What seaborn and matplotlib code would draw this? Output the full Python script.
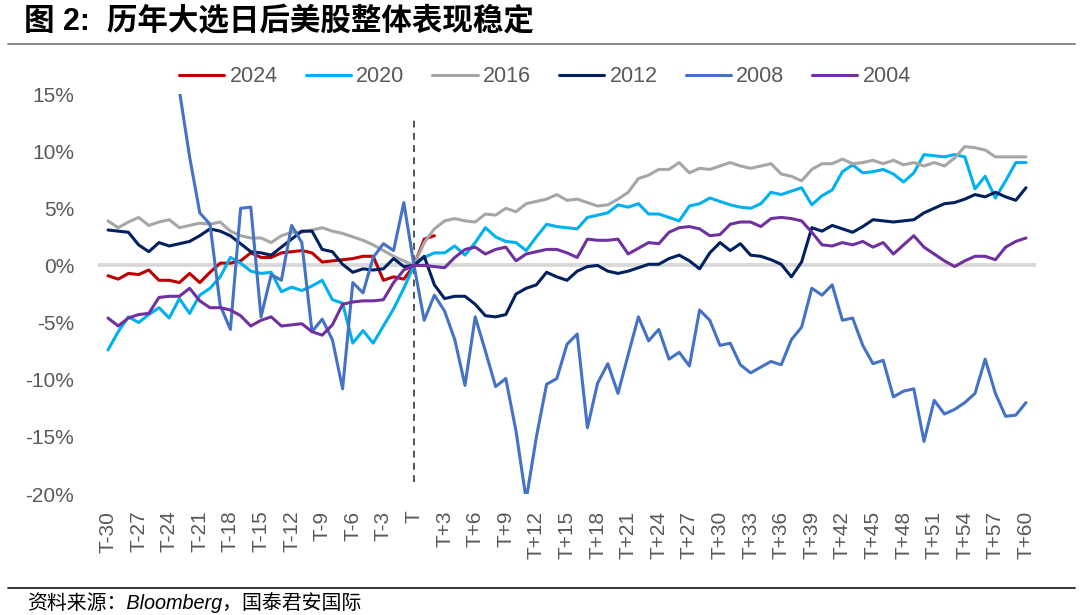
import matplotlib
matplotlib.use("Agg")
import matplotlib.pyplot as plt
from matplotlib.lines import Line2D
import numpy as np
import pandas as pd
import seaborn as sns

sns.set_theme(style="white")
plt.rcParams["font.family"] = ["Liberation Sans", "Noto Sans CJK SC"]

# ---------------- data ----------------
days = list(range(-30, 61))
tick_days = list(range(-30, 61, 3))
tick_labels = ["T" if d == 0 else f"T{d:+d}" for d in tick_days]

series_names = ["2024", "2020", "2016", "2012", "2008", "2004"]
series_colors = ["#C00000", "#00B0F0", "#A6A6A6", "#002060", "#4472C4", "#7030A0"]

# 2024: T-30 .. T+2
s2024 = [-0.9, -1.2, -0.7, -0.8, -0.4, -1.3, -1.3, -1.5, -0.7, -1.5,
         -0.6, 0.2, 0.2, 0.4, 1.1, 0.7, 0.7, 1.1, 1.2, 1.3,
         1.1, 0.3, 0.4, 0.5, 0.6, 0.8, 0.8, -1.3, -1.0, -1.2,
         0.0, 2.3, 2.6]

s2020 = [-7.4, -5.8, -4.5, -5.0, -4.3, -3.7, -4.6, -2.9, -4.2, -2.6,
         -2.0, -1.0, 0.7, 0.2, -0.5, -0.7, -0.6, -2.3, -1.9, -2.2,
         -1.8, -1.3, -3.0, -3.3, -6.8, -5.7, -6.8, -5.3, -3.8, -2.0,
         0.0, 0.7, 1.1, 1.1, 1.7, 0.9, 2.0, 3.3, 2.5, 2.1,
         2.0, 1.3, 2.5, 3.6, 3.4, 3.3, 3.2, 4.2, 4.4, 4.6,
         5.3, 5.1, 5.4, 4.5, 4.5, 4.2, 3.9, 5.2, 5.4, 5.9,
         5.6, 5.3, 5.1, 5.0, 5.4, 6.4, 6.2, 6.5, 6.8, 5.3,
         6.1, 6.6, 8.2, 8.8, 8.1, 8.2, 8.4, 8.0, 7.3, 8.1,
         9.7, 9.6, 9.5, 9.7, 9.5, 6.7, 7.8, 5.9, 7.4, 9.0,
         9.0]

s2016 = [3.9, 3.3, 3.8, 4.2, 3.5, 3.8, 4.0, 3.3, 3.5, 3.7,
         3.6, 3.8, 3.0, 2.6, 2.4, 2.4, 2.0, 2.6, 2.9, 2.9,
         3.1, 3.3, 3.0, 2.8, 2.5, 2.2, 1.8, 1.3, 0.8, 0.4,
         0.0, 2.0, 3.2, 3.9, 4.1, 3.9, 3.8, 4.5, 4.4, 5.0,
         4.7, 5.4, 5.6, 5.8, 6.2, 5.7, 5.8, 5.5, 5.2, 5.3,
         5.8, 6.4, 7.6, 7.9, 8.4, 8.4, 9.0, 8.1, 8.5, 8.4,
         8.7, 9.0, 8.7, 8.5, 8.7, 8.9, 8.0, 7.8, 7.4, 8.4,
         8.9, 8.9, 9.3, 8.9, 9.0, 9.2, 8.9, 9.2, 8.8, 9.0,
         8.7, 9.0, 8.7, 9.4, 10.4, 10.3, 10.1, 9.5, 9.5, 9.5,
         9.5]

s2012 = [3.1, 3.0, 2.9, 1.8, 1.2, 2.0, 1.7, 1.9, 2.1, 2.6,
         3.2, 3.0, 2.6, 1.9, 1.2, 1.1, 0.9, 1.6, 2.3, 3.0,
         3.0, 1.4, 1.2, 0.1, -0.6, -0.3, -0.4, -0.3, 0.6, -0.1,
         0.0, 0.8, -1.7, -2.9, -2.7, -2.7, -3.4, -4.4, -4.5, -4.3,
         -2.5, -2.0, -1.7, -0.6, -1.0, -1.3, -0.5, -0.1, 0.0, -0.5,
         -0.7, -0.5, -0.2, 0.1, 0.1, 0.6, 0.9, 0.4, -0.3, 1.1,
         2.0, 1.3, 1.9, 0.9, 0.8, 0.5, 0.1, -1.0, 0.3, 3.3,
         3.0, 3.5, 3.2, 2.9, 3.4, 4.0, 3.9, 3.8, 3.9, 4.0,
         4.6, 5.0, 5.4, 5.5, 5.8, 6.2, 6.0, 6.4, 6.0, 5.7,
         6.8]

s2008 = [20.5, 20.0, 20.8, 19.5, 19.0, 18.5, 19.0, 15.3, 9.5, 4.6,
         3.6, -3.5, -5.6, 5.0, 5.1, -4.5, -0.8, -1.3, 3.5, 2.0,
         -5.8, -4.7, -6.5, -10.8, -1.5, -2.4, 0.7, 1.9, 1.3, 5.5,
         0.0, -4.8, -2.6, -4.0, -6.5, -10.5, -4.5, -7.5, -10.6, -9.9,
         -14.5, -20.5, -15.0, -10.4, -9.9, -6.9, -6.0, -14.2, -10.3, -8.6,
         -11.2, -7.8, -4.5, -6.6, -5.6, -8.2, -7.6, -8.8, -3.9, -4.8,
         -7.0, -6.8, -8.7, -9.4, -8.9, -8.4, -8.7, -6.5, -5.4, -2.0,
         -2.6, -1.7, -4.8, -4.6, -7.0, -8.6, -8.3, -11.5, -11.0, -10.8,
         -15.4, -11.8, -13.0, -12.6, -12.0, -11.2, -8.2, -11.2, -13.2, -13.1,
         -12.0]

s2004 = [-4.6, -5.3, -4.6, -4.3, -4.2, -2.8, -2.7, -2.7, -2.0, -3.1,
         -3.7, -3.7, -3.9, -4.4, -5.3, -4.8, -4.5, -5.3, -5.2, -5.1,
         -5.8, -6.1, -5.2, -3.4, -3.2, -3.1, -3.1, -3.0, -1.5, -0.4,
         0.0, 0.0, -0.1, -0.2, 0.7, 1.4, 1.6, 1.0, 1.4, 1.6,
         0.4, 1.0, 1.2, 1.4, 1.4, 1.1, 0.7, 2.3, 2.2, 2.2,
         2.3, 1.0, 1.5, 2.0, 1.9, 2.9, 3.3, 3.4, 3.2, 2.6,
         2.7, 3.6, 3.8, 3.8, 3.4, 4.1, 4.2, 4.1, 3.9, 2.9,
         1.8, 1.7, 2.0, 1.8, 2.1, 1.6, 2.0, 1.0, 1.8, 2.6,
         1.6, 1.0, 0.4, -0.1, 0.4, 0.8, 0.8, 0.5, 1.6, 2.1,
         2.4]

y_ticks = [-20, -15, -10, -5, 0, 5, 10, 15]

title_text = "图 2:  历年大选日后美股整体表现稳定"
source_text = "资料来源：Bloomberg，国泰君安国际"

# ---------------- frame ----------------
all_series = [s2024, s2020, s2016, s2012, s2008, s2004]
rows = []
for name, vals in zip(series_names, all_series):
    for d, v in zip(days, vals):
        rows.append({"day": d, "value": v, "year": name})
df = pd.DataFrame(rows)

W, H = 1080, 615
fig = plt.figure(figsize=(W / 100, H / 100), dpi=100)

x_left_px, x_right_px = 97.8, 1036.2
y_top_px, y_bot_px = 94, 494
ax = fig.add_axes([x_left_px / W, 1 - y_bot_px / H,
                   (x_right_px - x_left_px) / W, (y_bot_px - y_top_px) / H])

ax.axhline(0, color="#D9D9D9", lw=2.8, zorder=1)
ax.axvline(0, ymin=0.03, ymax=0.943, color="#262626", lw=1.1,
           ls=(0, (4.5, 3.5)), zorder=1.2)

sns.lineplot(data=df, x="day", y="value", hue="year", hue_order=series_names,
             palette=series_colors, linewidth=2.2, estimator=None,
             errorbar=None, sort=True, ax=ax, zorder=3)

ax.set_xlim(-31, 61)
ax.set_ylim(-20, 15)
for s in ax.spines.values():
    s.set_visible(False)

ax.set_yticks(y_ticks)
ax.set_yticklabels([f"{t}%" for t in y_ticks])
ax.set_xticks(tick_days)
ax.set_xticklabels(tick_labels, rotation=90, va="top", ha="center")
ax.tick_params(axis="y", length=0, pad=17, labelsize=15, labelcolor="#595959")
ax.tick_params(axis="x", length=0, pad=12, labelsize=15, labelcolor="#595959")
ax.set_xlabel("")
ax.set_ylabel("")
ax.grid(False)

handles, labels = ax.get_legend_handles_labels()
ax.legend(handles, labels, loc="center", ncol=6,
          bbox_to_anchor=(545 / W, 1 - 77 / H), bbox_transform=fig.transFigure,
          frameon=False, fontsize=15.5, handlelength=2.1, handletextpad=0.25,
          columnspacing=1.3, labelcolor="#595959")

fig.text(24 / W, 1 - 22 / H, title_text, fontsize=22, fontweight="bold",
         color="black", va="center", ha="left")
fig.add_artist(Line2D([8 / W, 1075 / W], [1 - 44 / H, 1 - 44 / H],
                      color="#7F7F7F", lw=1.3, transform=fig.transFigure))
fig.add_artist(Line2D([8 / W, 1075 / W], [1 - 588 / H, 1 - 588 / H],
                      color="#262626", lw=1.3, transform=fig.transFigure))
fig.text(27 / W, 1 - 603 / H, source_text, fontsize=14.3, style="italic",
         color="black", va="center", ha="left")

fig.savefig("out.png", dpi=100)
